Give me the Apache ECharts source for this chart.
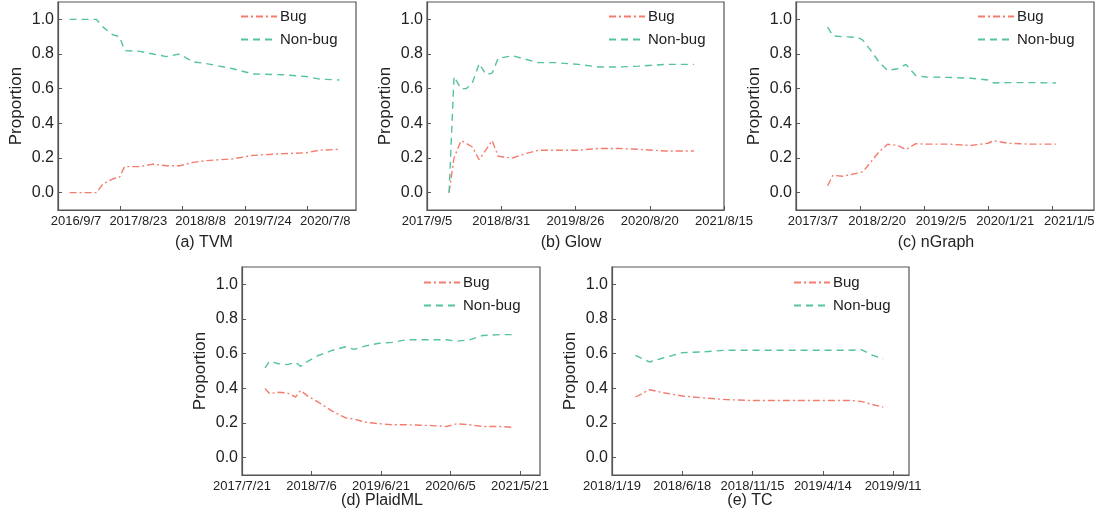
<!DOCTYPE html>
<html lang="en">
<head>
    <meta charset="UTF-8">
    <title>proportion</title>
    <script src="https://cdn.jsdelivr.net/npm/echarts@6/dist/echarts.min.js"></script>
    <style>
        body { margin: 0; background: #fff; }
    </style>
</head>
<body>
    <div id="main" style="width: 1099px;height:523px;"></div>
    <script type="text/javascript">
        // data
        var yTicks = [0, 0.2, 0.4, 0.6, 0.8, 1.0];

        var tvmTicks = ['2016/9/7', '2017/8/23', '2018/8/8', '2019/7/24', '2020/7/8'];
        var tvmEnd = '2021/4/8';
        var tvmDates = ['2016/11/11', '2017/4/10', '2017/5/18', '2017/7/13', '2017/8/19', '2017/9/16', '2017/12/10', '2018/2/23', '2018/5/8', '2018/7/22', '2018/10/5', '2018/12/18', '2019/5/17', '2019/9/6', '2020/2/22', '2020/7/2', '2020/9/15', '2021/1/5'];
        var tvmBug = [0, 0, 0.05, 0.08, 0.09, 0.15, 0.15, 0.165, 0.155, 0.155, 0.175, 0.185, 0.195, 0.215, 0.225, 0.23, 0.245, 0.25];
        var tvmNonBug = [1.0, 1.0, 0.955, 0.91, 0.90, 0.82, 0.815, 0.80, 0.785, 0.80, 0.755, 0.745, 0.715, 0.685, 0.68, 0.67, 0.655, 0.65];

        var glowTicks = ['2017/9/5', '2018/8/31', '2019/8/26', '2020/8/20', '2021/8/15'];
        var glowEnd = '2021/8/15';
        var glowDates = ['2017/12/21', '2018/1/14', '2018/2/17', '2018/3/14', '2018/4/12', '2018/5/16', '2018/6/19', '2018/7/18', '2018/8/16', '2018/10/24', '2018/12/26', '2019/2/27', '2019/5/21', '2019/9/10', '2019/12/16', '2020/3/22', '2020/6/28', '2020/11/6', '2021/3/22'];
        var glowBug = [0.0, 0.20, 0.30, 0.285, 0.265, 0.19, 0.25, 0.30, 0.21, 0.20, 0.225, 0.245, 0.245, 0.245, 0.255, 0.255, 0.25, 0.24, 0.24];
        var glowNonBug = [0.0, 0.67, 0.60, 0.60, 0.63, 0.745, 0.68, 0.69, 0.775, 0.79, 0.77, 0.75, 0.75, 0.74, 0.725, 0.725, 0.73, 0.74, 0.74];

        var ngTicks = ['2017/3/7', '2018/2/20', '2019/2/5', '2020/1/21', '2021/1/5'];
        var ngEnd = '2021/8/21';
        var ngDates = ['2017/8/27', '2017/9/24', '2017/11/17', '2018/2/7', '2018/3/7', '2018/4/20', '2018/6/2', '2018/7/21', '2018/9/13', '2018/10/28', '2018/12/22', '2019/2/15', '2019/6/15', '2019/10/18', '2020/1/19', '2020/2/21', '2020/5/8', '2020/9/10', '2021/1/25'];
        var ngBug = [0.04, 0.10, 0.095, 0.113, 0.12, 0.177, 0.234, 0.279, 0.273, 0.248, 0.283, 0.28, 0.28, 0.272, 0.285, 0.30, 0.285, 0.28, 0.28];
        var ngNonBug = [0.955, 0.905, 0.90, 0.895, 0.88, 0.82, 0.755, 0.705, 0.715, 0.74, 0.675, 0.667, 0.665, 0.66, 0.65, 0.633, 0.635, 0.635, 0.633];

        var pmTicks = ['2017/7/21', '2018/7/6', '2019/6/21', '2020/6/5', '2021/5/21'];
        var pmEnd = '2021/8/30';
        var pmDates = ['2017/11/14', '2017/12/6', '2018/1/21', '2018/3/7', '2018/4/17', '2018/5/12', '2018/6/17', '2018/8/11', '2018/10/21', '2018/12/26', '2019/2/5', '2019/4/6', '2019/6/11', '2019/8/16', '2019/10/26', '2020/3/6', '2020/5/17', '2020/7/5', '2020/9/9', '2020/11/14', '2021/2/8', '2021/4/10'];
        var pmBug = [0.40, 0.37, 0.377, 0.373, 0.35, 0.388, 0.355, 0.319, 0.267, 0.229, 0.223, 0.204, 0.196, 0.19, 0.19, 0.185, 0.18, 0.195, 0.19, 0.18, 0.18, 0.175];
        var pmNonBug = [0.518, 0.556, 0.542, 0.537, 0.55, 0.527, 0.556, 0.59, 0.62, 0.64, 0.625, 0.645, 0.66, 0.665, 0.68, 0.68, 0.68, 0.672, 0.68, 0.705, 0.71, 0.71];

        var tcTicks = ['2018/1/19', '2018/6/18', '2018/11/15', '2019/4/14', '2019/9/11'];
        var tcEnd = '2019/10/15';
        var tcDates = ['2018/3/10', '2018/4/9', '2018/5/8', '2018/6/19', '2018/8/1', '2018/9/20', '2018/11/8', '2019/1/19', '2019/3/31', '2019/6/10', '2019/7/5', '2019/7/30', '2019/8/21'];
        var tcBug = [0.35, 0.392, 0.375, 0.356, 0.345, 0.335, 0.33, 0.33, 0.33, 0.33, 0.325, 0.305, 0.292];
        var tcNonBug = [0.59, 0.552, 0.575, 0.606, 0.61, 0.62, 0.62, 0.62, 0.62, 0.62, 0.623, 0.59, 0.571];

        function ts(s) {
            var p = s.split('/').map(Number);
            return Date.UTC(p[0], p[1] - 1, p[2]);
        }
        function fmt(v) {
            var d = new Date(v);
            return d.getUTCFullYear() + '/' + (d.getUTCMonth() + 1) + '/' + d.getUTCDate();
        }
        function pairs(dates, vals) {
            return dates.map(function (d, i) { return [ts(d), vals[i]]; });
        }

        var bugColor = '#f47c6f';
        var nonBugColor = '#55c2a0';
        var axisColor = '#555';
        var font = 'Liberation Sans, Arial, sans-serif';

        // panel layout: grid box, legend position, caption, label offset (px) from ticks
        var panels = [
            { title: '(a) TVM', ticks: tvmTicks, end: tvmEnd, dates: tvmDates, bug: tvmBug, non: tvmNonBug,
              box: [58, 2, 298, 208], legend: [240, 9], cap: [204, 243], shift: 18 },
            { title: '(b) Glow', ticks: glowTicks, end: glowEnd, dates: glowDates, bug: glowBug, non: glowNonBug,
              box: [427, 2, 297, 208], legend: [608, 9], cap: [571, 243], shift: 0 },
            { title: '(c) nGraph', ticks: ngTicks, end: ngEnd, dates: ngDates, bug: ngBug, non: ngNonBug,
              box: [796, 2, 298, 208], legend: [977, 9], cap: [936, 243], shift: 17 },
            { title: '(d) PlaidML', ticks: pmTicks, end: pmEnd, dates: pmDates, bug: pmBug, non: pmNonBug,
              box: [242, 267, 298, 208], legend: [423, 275], cap: [382, 501], shift: 0 },
            { title: '(e) TC', ticks: tcTicks, end: tcEnd, dates: tcDates, bug: tcBug, non: tcNonBug,
              box: [612, 267, 297, 208], legend: [793, 275], cap: [750, 501], shift: 0 }
        ];

        var grid = [], xAxis = [], yAxis = [], series = [], legend = [], graphic = [];

        function labelStyle() {
            return {
                fontSize: 13,
                fontFamily: font,
                color: '#222',
                margin: 5,
                showMinLabel: true,
                showMaxLabel: true,
                formatter: fmt
            };
        }

        panels.forEach(function (p, i) {
            var min = ts(p.ticks[0]), max = ts(p.end);
            var tickVals = p.ticks.map(ts);
            grid.push({
                left: p.box[0], top: p.box[1], width: p.box[2], height: p.box[3],
                show: true, borderColor: axisColor, borderWidth: 1.2
            });
            var lab = labelStyle();
            lab.customValues = tickVals;
            lab.show = !p.shift;
            xAxis.push({
                type: 'value',
                gridIndex: i,
                min: min,
                max: max,
                splitLine: { show: false },
                axisLine: { show: true, onZero: false, lineStyle: { color: axisColor, width: 1.2 } },
                axisTick: { show: true, inside: true, length: 4, lineStyle: { color: axisColor },
                    customValues: tickVals },
                axisLabel: lab
            });
            yAxis.push({
                type: 'value',
                gridIndex: i,
                min: -0.1,
                max: 1.1,
                name: 'Proportion',
                nameLocation: 'middle',
                nameGap: 33,
                nameTextStyle: { fontSize: 17, fontFamily: font, color: '#222' },
                splitLine: { show: false },
                axisLine: { show: true, lineStyle: { color: axisColor, width: 1.2 } },
                axisTick: { show: true, inside: true, length: 4, lineStyle: { color: axisColor },
                    customValues: yTicks },
                axisLabel: {
                    customValues: yTicks,
                    formatter: function (v) { return v.toFixed(1); },
                    fontSize: 16,
                    fontFamily: font,
                    color: '#222',
                    margin: 4
                }
            });
            series.push({
                name: 'Bug',
                type: 'line',
                xAxisIndex: i,
                yAxisIndex: i,
                symbol: 'none',
                data: pairs(p.dates, p.bug),
                lineStyle: { color: bugColor, width: 1.4, type: [7, 3, 2, 3] },
                itemStyle: { color: bugColor }
            });
            series.push({
                name: 'Non-bug',
                type: 'line',
                xAxisIndex: i,
                yAxisIndex: i,
                symbol: 'none',
                data: pairs(p.dates, p.non),
                lineStyle: { color: nonBugColor, width: 1.4, type: [7, 5] },
                itemStyle: { color: nonBugColor }
            });
            legend.push({
                data: ['Bug', 'Non-bug'],
                orient: 'vertical',
                left: p.legend[0],
                top: p.legend[1],
                padding: 0,
                itemWidth: 36,
                itemHeight: 10,
                itemGap: 8,
                itemStyle: { color: 'rgba(0,0,0,0)', borderWidth: 0 },
                textStyle: { fontSize: 15, fontFamily: font, color: '#222', padding: [0, 0, 0, -2] }
            });
            graphic.push({
                type: 'text',
                x: p.cap[0],
                y: p.cap[1],
                style: {
                    text: p.title,
                    fontSize: 16,
                    fontFamily: font,
                    fill: '#222',
                    textAlign: 'center',
                    textVerticalAlign: 'middle'
                }
            });
        });

        // panels whose date labels sit to the right of their ticks get a label-only axis
        panels.forEach(function (p, i) {
            if (!p.shift) return;
            var min = ts(p.ticks[0]), max = ts(p.end);
            var off = p.shift * (max - min) / p.box[2];
            var lab = labelStyle();
            lab.customValues = p.ticks.map(ts);
            xAxis.push({
                type: 'value',
                gridIndex: i,
                position: 'bottom',
                min: min - off,
                max: max - off,
                splitLine: { show: false },
                axisLine: { show: false, onZero: false },
                axisTick: { show: false },
                axisLabel: lab
            });
        });

        var myChart = echarts.init(document.getElementById('main'));
        var option = {
            animation: false,
            backgroundColor: '#fff',
            grid: grid,
            xAxis: xAxis,
            yAxis: yAxis,
            legend: legend,
            graphic: graphic,
            series: series
        };
        myChart.setOption(option);
    </script>
</body>
</html>
